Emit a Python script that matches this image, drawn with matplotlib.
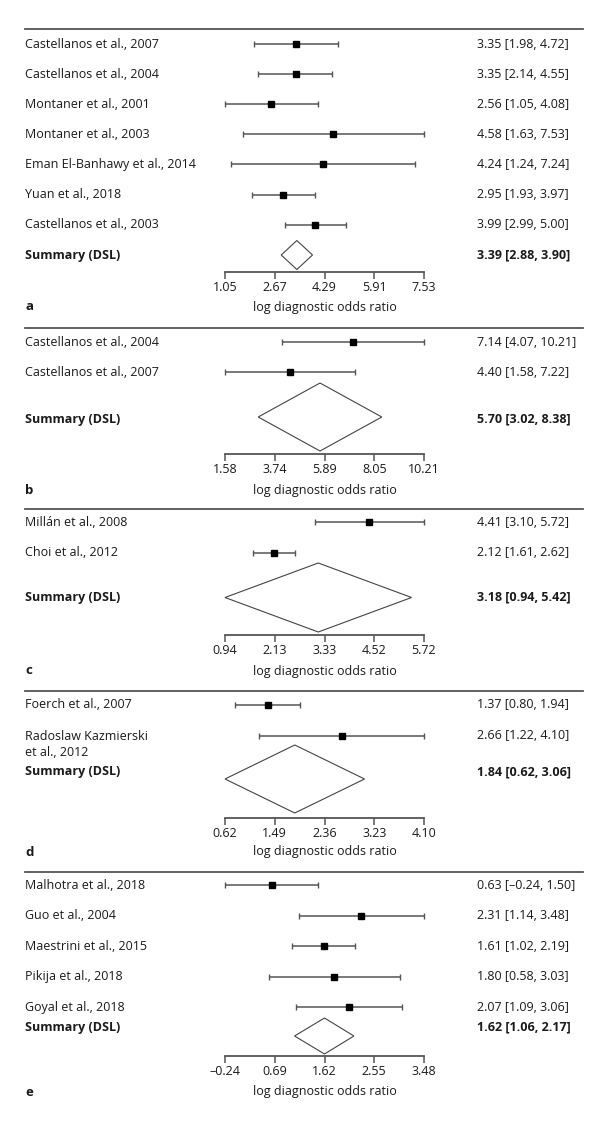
import numpy as np
import matplotlib
matplotlib.use('Agg')
import matplotlib.pyplot as plt
from matplotlib.lines import Line2D
from matplotlib.transforms import blended_transform_factory

plt.rcParams['font.family'] = ['Open Sans', 'DejaVu Sans']

# Les données (log DOR, IC 95 %)
a_names = ['Castellanos et al., 2007', 'Castellanos et al., 2004', 'Montaner et al., 2001',
           'Montaner et al., 2003', 'Eman El-Banhawy et al., 2014', 'Yuan et al., 2018',
           'Castellanos et al., 2003']
a_est = [3.35, 3.35, 2.56, 4.58, 4.24, 2.95, 3.99]
a_lo = [1.98, 2.14, 1.05, 1.63, 1.24, 1.93, 2.99]
a_hi = [4.72, 4.55, 4.08, 7.53, 7.24, 3.97, 5.00]
a_sum = [3.39, 2.88, 3.90]

b_names = ['Castellanos et al., 2004', 'Castellanos et al., 2007']
b_est = [7.14, 4.40]
b_lo = [4.07, 1.58]
b_hi = [10.21, 7.22]
b_sum = [5.70, 3.02, 8.38]

c_names = ['Millán et al., 2008', 'Choi et al., 2012']
c_est = [4.41, 2.12]
c_lo = [3.10, 1.61]
c_hi = [5.72, 2.62]
c_sum = [3.18, 0.94, 5.42]

d_names = ['Foerch et al., 2007', 'Radoslaw Kazmierski\net al., 2012']
d_est = [1.37, 2.66]
d_lo = [0.80, 1.22]
d_hi = [1.94, 4.10]
d_sum = [1.84, 0.62, 3.06]

e_names = ['Malhotra et al., 2018', 'Guo et al., 2004', 'Maestrini et al., 2015',
           'Pikija et al., 2018', 'Goyal et al., 2018']
e_est = [0.63, 2.31, 1.61, 1.80, 2.07]
e_lo = [-0.24, 1.14, 1.02, 0.58, 1.09]
e_hi = [1.50, 3.48, 2.19, 3.03, 3.06]
e_sum = [1.62, 1.06, 2.17]

panels = [
    ('a', a_names, a_est, a_lo, a_hi, a_sum),
    ('b', b_names, b_est, b_lo, b_hi, b_sum),
    ('c', c_names, c_est, c_lo, c_hi, c_sum),
    ('d', d_names, d_est, d_lo, d_hi, d_sum),
    ('e', e_names, e_est, e_lo, e_hi, e_sum),
]

# Mise en page en pixels : ligne du haut, 1re ligne, pas, texte résumé, losange, demi-hauteur, axe, légende
layouts = [
    dict(top=29, first=44, step=30.1, sum_y=255, dia_y=255, dh=14.5, axis=272, lab=307),
    dict(top=328, first=342, step=30, sum_y=419, dia_y=417, dh=34, axis=454, lab=490),
    dict(top=509, first=522, step=31, sum_y=597, dia_y=597.5, dh=34.5, axis=635, lab=671),
    dict(top=691, first=705, step=31, sum_y=772, dia_y=779, dh=34, axis=818, lab=852),
    dict(top=872, first=885, step=30.5, sum_y=1027, dia_y=1036, dh=18, axis=1056, lab=1092),
]

W, H = 600, 1131
FS = 9
txt_col = '#1a1a1a'
line_col = '#555555'

def fmt(v):
    # arrondi "au plus bas" sur les demis, comme dans la figure d'origine
    r = np.ceil(v * 100 - 0.5 - 1e-6) / 100
    return ('%.2f' % r).replace('-', '\u2013')

fig = plt.figure(figsize=(W / 100, H / 100), dpi=100)

for (letter, names, est, lo, hi, summ), L in zip(panels, layouts):
    xmin = min(min(lo), summ[1])
    xmax = max(max(hi), summ[2])
    x0, x1 = 225, 424
    ax = fig.add_axes([x0 / W, 1 - L['axis'] / H, (x1 - x0) / W, (L['axis'] - L['top']) / H])
    ax.set_xlim(xmin, xmax)
    ax.set_ylim(L['axis'], L['top'])
    ax.patch.set_visible(False)
    for s in ['top', 'left', 'right']:
        ax.spines[s].set_visible(False)
    ax.spines['bottom'].set_color(line_col)
    ax.spines['bottom'].set_linewidth(1.3)
    ax.set_yticks([])
    ticks = np.linspace(xmin, xmax, 5)
    ax.set_xticks(ticks)
    ax.set_xticklabels([fmt(t) for t in ticks], fontsize=FS, color=txt_col)
    ax.tick_params(axis='x', direction='out', length=5, width=1.1, color=line_col, pad=1.5)

    est = np.array(est)
    ys = L['first'] + L['step'] * np.arange(len(names))
    ax.errorbar(est, ys, xerr=[est - np.array(lo), np.array(hi) - est], fmt='s',
                color='black', markersize=5, ecolor=line_col, elinewidth=1.1,
                capsize=2.2, capthick=1.0, clip_on=False, zorder=3)

    # losange du résumé
    m, l, h = summ
    yc, dh = L['dia_y'], L['dh']
    ax.fill([l, m, h, m, l], [yc, yc - dh, yc, yc + dh, yc], facecolor='white',
            edgecolor='#444444', linewidth=0.8, clip_on=False, zorder=2)

    tr = blended_transform_factory(fig.transFigure, ax.transData)
    for name, y, e_, lo_, hi_ in zip(names, ys, est, lo, hi):
        if '\n' in name:
            ax.text(25 / W, y - 5.5, name, transform=tr, fontsize=FS, color=txt_col,
                    va='top', ha='left', linespacing=1.25)
        else:
            ax.text(25 / W, y, name, transform=tr, fontsize=FS, color=txt_col,
                    va='center', ha='left')
        ax.text(477 / W, y, '%s [%s, %s]' % (fmt(e_), fmt(lo_), fmt(hi_)), transform=tr,
                fontsize=FS, color=txt_col, va='center', ha='left')
    ax.text(25 / W, L['sum_y'], 'Summary (DSL)', transform=tr, fontsize=FS,
            color=txt_col, va='center', ha='left', fontweight='bold')
    ax.text(477 / W, L['sum_y'], '%s [%s, %s]' % (fmt(m), fmt(l), fmt(h)), transform=tr,
            fontsize=FS, color=txt_col, va='center', ha='left', fontweight='bold')

    # ligne du haut, lettre, titre d'axe
    fig.add_artist(Line2D([25 / W, 583 / W], [1 - L['top'] / H] * 2, color=line_col, lw=1.3))
    fig.text(25 / W, 1 - L['lab'] / H, letter, fontsize=FS + 0.5, fontweight='bold',
             color=txt_col, va='center', ha='left')
    fig.text((x0 + x1) / 2 / W, 1 - L['lab'] / H, 'log diagnostic odds ratio', fontsize=FS,
             color=txt_col, va='center', ha='center')

fig.savefig('out.png', dpi=100, facecolor='white')
